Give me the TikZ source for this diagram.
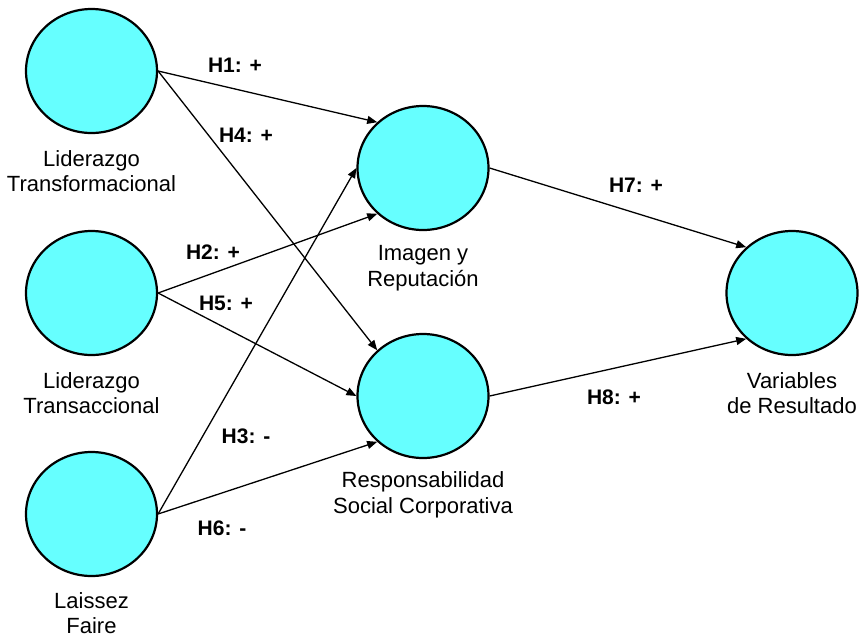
\documentclass[tikz,border=0pt]{standalone}
\usepackage{fontspec}
\setmainfont{Liberation Sans}
\usetikzlibrary{shapes.geometric,arrows.meta}
\definecolor{cyanfill}{RGB}{102,255,255}
\begin{document}
\begin{tikzpicture}[x=1pt,y=-1pt,
  latent/.style={ellipse,draw=black,line width=2.2pt,fill=cyanfill,minimum width=131pt,minimum height=124pt,inner sep=0pt},
  lbl/.style={align=center,inner sep=0pt,font=\fontsize{22}{25.5}\selectfont},
  hyp/.style={inner sep=0pt,font=\fontsize{21}{25}\selectfont\bfseries},
  arr/.style={line width=1.3pt,-{Triangle[length=10pt,width=8pt]}}]
\useasboundingbox (0,0) rectangle (859,638);
\node[latent] (c1) at (91.5,71) {};
\node[latent] (c2) at (91.5,293) {};
\node[latent] (c3) at (91.5,514) {};
\node[latent] (img) at (423,168) {};
\node[latent] (rsc) at (423,396) {};
\node[latent] (var) at (792,293) {};
\node[lbl] (t1) at (91.5,171) {Liderazgo\\Transformacional};
\node[lbl] (t2) at (91.5,393) {Liderazgo\\Transaccional};
\node[lbl] (t3) at (91.5,613) {Laissez\\Faire};
\node[lbl] (t4) at (423,268) {Imagen y\\Reputación};
\node[lbl] (t5) at (423,495) {Responsabilidad\\Social Corporativa};
\node[lbl] (t6) at (792,393) {Variables\\de Resultado};
\draw[arr] (c1.east) -- (img.135);
\draw[arr] (c1.east) -- (rsc.135);
\draw[arr] (c2.east) -- (img.225);
\draw[arr] (c2.east) -- (rsc.west);
\draw[arr] (c3.east) -- (img.west);
\draw[arr] (c3.east) -- (rsc.225);
\draw[arr] (img.east) -- (var.135);
\draw[arr] (rsc.east) -- (var.225);
\node[hyp] (h1) at (235,65) {H1: +};
\node[hyp] (h4) at (246,135) {H4: +};
\node[hyp] (h2) at (213,252) {H2: +};
\node[hyp] (h5) at (226,303) {H5: +};
\node[hyp] (h3) at (246,436) {H3: -};
\node[hyp] (h6) at (222,528) {H6: -};
\node[hyp] (h7) at (636,185) {H7: +};
\node[hyp] (h8) at (614,397) {H8: +};
\end{tikzpicture}
\end{document}
